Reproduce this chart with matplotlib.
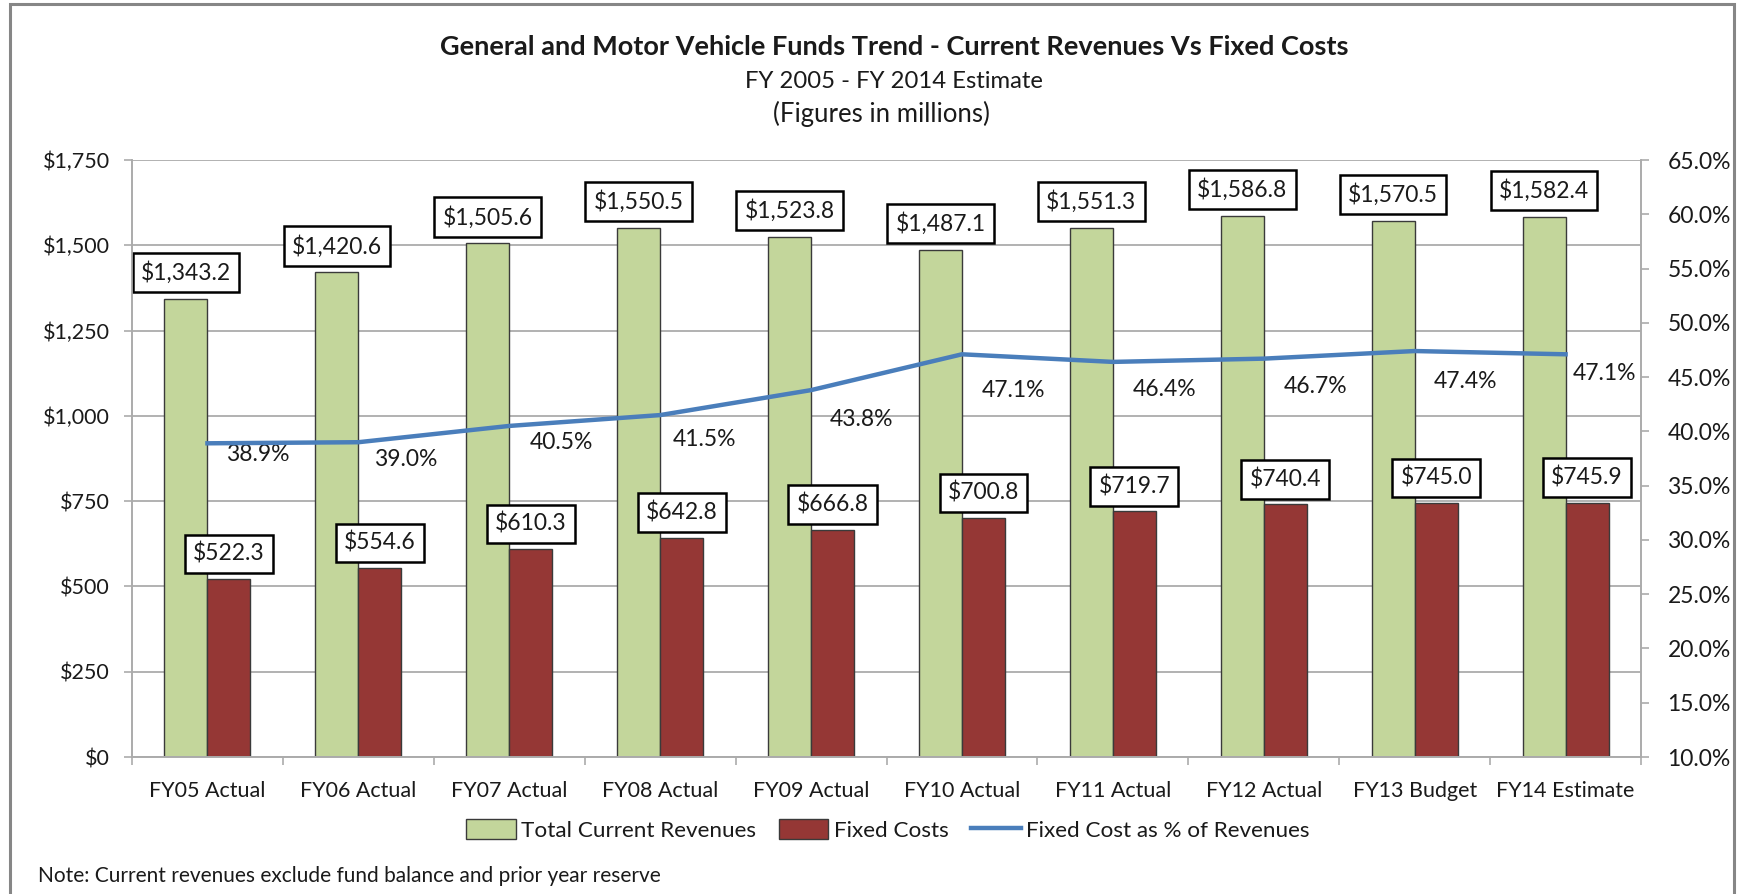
import numpy as np
import matplotlib
matplotlib.use("Agg")
from matplotlib import pyplot as plt
from matplotlib.patches import Patch, Rectangle
from matplotlib.lines import Line2D

plt.rcParams['font.family'] = ['Lato', 'DejaVu Sans']

categories = ["FY05 Actual", "FY06 Actual", "FY07 Actual", "FY08 Actual", "FY09 Actual",
              "FY10 Actual", "FY11 Actual", "FY12 Actual", "FY13 Budget", "FY14 Estimate"]
revenues = [1343.2, 1420.6, 1505.6, 1550.5, 1523.8, 1487.1, 1551.3, 1586.8, 1570.5, 1582.4]
fixed_costs = [522.3, 554.6, 610.3, 642.8, 666.8, 700.8, 719.7, 740.4, 745.0, 745.9]
pct_of_rev = [38.9, 39.0, 40.5, 41.5, 43.8, 47.1, 46.4, 46.7, 47.4, 47.1]

# label offsets for the % labels (pixels, right / down from the point)
pct_dx = [50, 47, 52, 44, 50, 52, 52, 52, 51, 39]
pct_dy = [11, 17, 17, 24, 29, 36, 28, 28, 30, 19]

green = '#C3D69B'
red = '#953735'
blue = '#4A7EBB'
grid_c = '#ABABAB'
txt = '#1a1a1a'

W, H = 1741, 894
fig = plt.figure(figsize=(W / 100, H / 100), dpi=100)
ax = fig.add_axes([132 / W, 1 - 757 / H, (1641 - 132) / W, (757 - 160) / H])

x = np.arange(len(categories))
bw = 0.285
ax.bar(x - bw / 2, revenues, bw, color=green, edgecolor='#3a3a3a', linewidth=1, zorder=2)
ax.bar(x + bw / 2, fixed_costs, bw, color=red, edgecolor='#3a3a3a', linewidth=1, zorder=2)

box = dict(boxstyle='square,pad=0.36', fc='white', ec='black', lw=1.8)
for xi, v in zip(x, revenues):
    ax.annotate(f"${v:,.1f}", (xi - bw / 2, v), xytext=(0, 15), textcoords='offset pixels',
                ha='center', va='bottom', fontsize=16.5, color=txt, bbox=box, zorder=5)
for xi, v in zip(x, fixed_costs):
    ax.annotate(f"${v:,.1f}", (xi + bw / 2, v), xytext=(0, 14), textcoords='offset pixels',
                ha='center', va='bottom', fontsize=16.5, color=txt, bbox=box, zorder=5)

ax.set_xlim(-0.5, len(categories) - 0.5)
ax.set_ylim(0, 1750)
ax.set_yticks(np.arange(0, 1751, 250))
ax.set_yticklabels([f"${v:,.0f}" for v in np.arange(0, 1751, 250)])
ax.yaxis.grid(True, color=grid_c, lw=1.3)
ax.set_axisbelow(True)

ax.set_xticks(np.arange(-0.5, len(categories), 1.0))
ax.set_xticklabels([])
ax.set_xticks(x, minor=True)
ax.set_xticklabels(categories, minor=True)
ax.tick_params(axis='x', which='major', length=6, color=grid_c, width=1.2, direction='out')
ax.tick_params(axis='x', which='minor', length=0, pad=17, labelsize=15.5, labelcolor=txt)
ax.tick_params(axis='y', length=6, color=grid_c, width=1.2, labelsize=15.5, labelcolor=txt, pad=10)

for s in ['left', 'right', 'bottom']:
    ax.spines[s].set_color(grid_c)
    ax.spines[s].set_linewidth(1.2)
ax.spines['top'].set_visible(False)

ax2 = ax.twinx()
ax2.plot(x, pct_of_rev, color=blue, lw=3.2, zorder=4)
ax2.set_ylim(10, 65)
ax2.set_yticks(np.arange(10, 65.1, 5))
ax2.set_yticklabels([f"{v:.1f}%" for v in np.arange(10, 65.1, 5)])
ax2.tick_params(axis='y', length=6, color=grid_c, width=1.2, labelsize=16.5, labelcolor=txt, pad=13)
for s in ['left', 'right', 'bottom']:
    ax2.spines[s].set_color(grid_c)
    ax2.spines[s].set_linewidth(1.2)
ax2.spines['top'].set_visible(False)

for xi, v, dx, dy in zip(x, pct_of_rev, pct_dx, pct_dy):
    ax2.annotate(f"{v:.1f}%", (xi, v), xytext=(dx, -dy), textcoords='offset pixels',
                 ha='center', va='center', fontsize=16.5, color=txt)

fig.text(894 / W, 1 - 47 / H, "General and Motor Vehicle Funds Trend - Current Revenues Vs Fixed Costs",
         ha='center', va='center', fontsize=19.5, fontweight='bold', color=txt)
fig.text(894 / W, 1 - 81 / H, "FY 2005 - FY 2014 Estimate", ha='center', va='center',
         fontsize=17.2, color=txt)
fig.text(881 / W, 1 - 114 / H, "(Figures in millions)", ha='center', va='center',
         fontsize=18.5, color=txt)

handles = [Patch(fc=green, ec='#3a3a3a', lw=1), Patch(fc=red, ec='#3a3a3a', lw=1),
           Line2D([0], [0], color=blue, lw=3.2)]
labels = ["Total Current Revenues", "Fixed Costs", "Fixed Cost as % of Revenues"]
fig.legend(handles, labels, loc='center', bbox_to_anchor=(888 / W, 1 - 830 / H), ncol=3,
           frameon=False, fontsize=16.2, handlelength=2.2, handleheight=1.0,
           columnspacing=1.0, handletextpad=0.25, labelcolor=txt)

fig.text(38 / W, 1 - 876 / H, "Note: Current revenues exclude fund balance and prior year reserve",
         ha='left', va='center', fontsize=15, color=txt)

fig.patches.append(Rectangle((10 / W, -0.02), (1734 - 10) / W, 1.02 - 4 / H,
                             transform=fig.transFigure, fill=False, ec='#868686', lw=2.2))

fig.savefig("out.png", dpi=100)
